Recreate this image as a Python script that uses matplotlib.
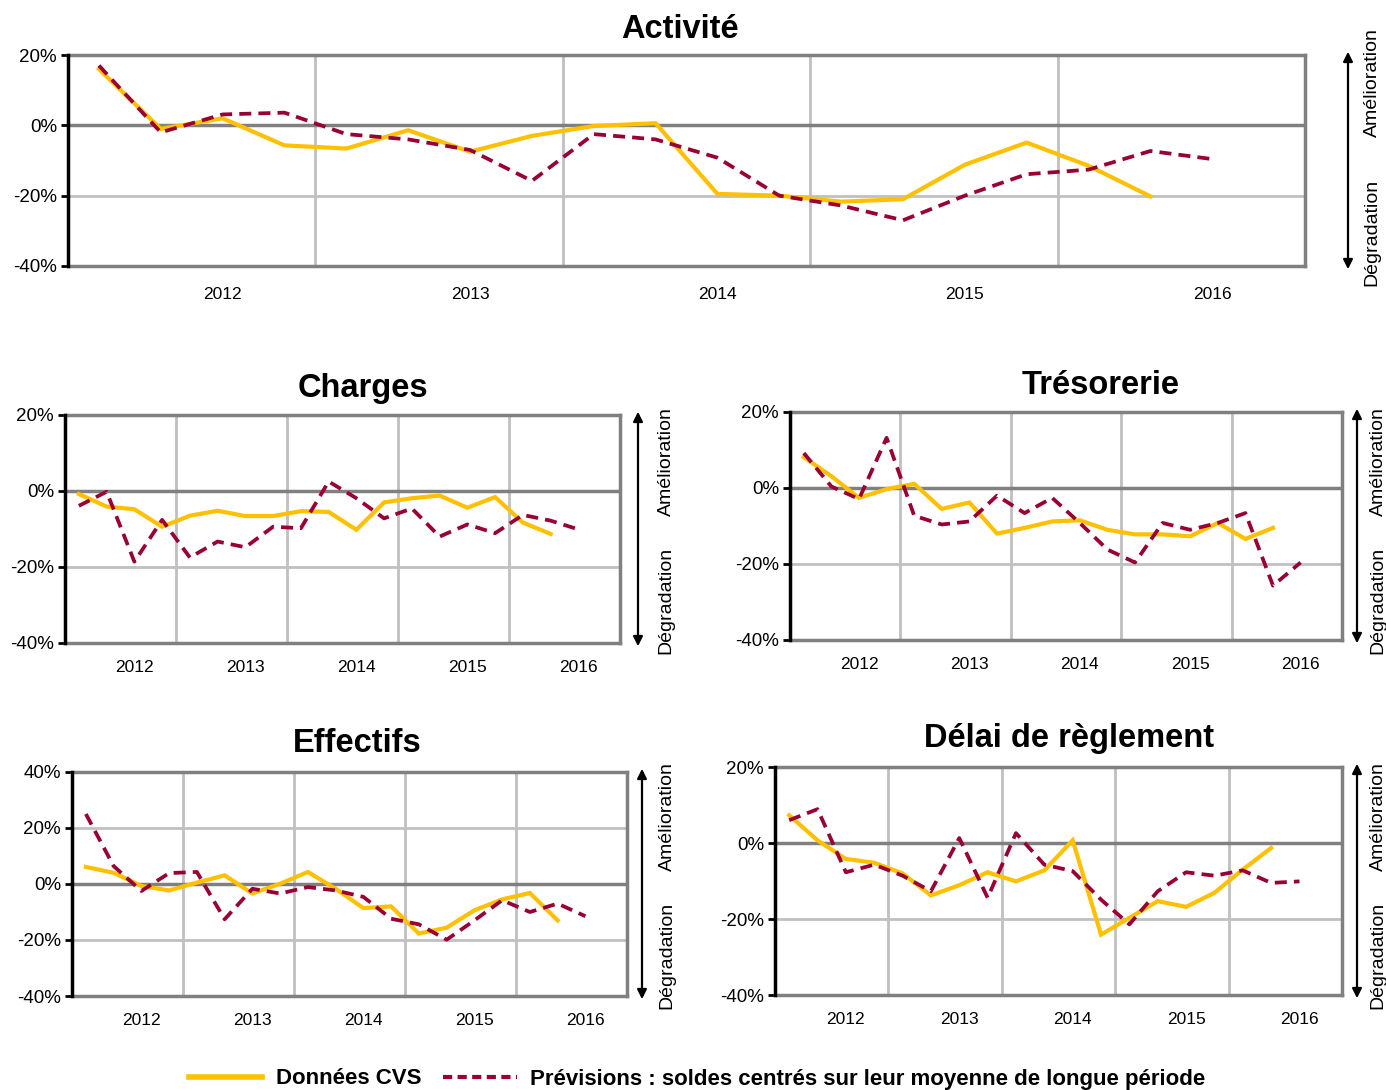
import matplotlib
matplotlib.use("Agg")
import matplotlib.pyplot as plt
import numpy as np
from matplotlib.lines import Line2D
from matplotlib.patches import FancyArrowPatch

W, H = 1386, 1090
YELLOW = "#FFC000"
MAROON = "#990033"
GRID = "#C0C0C0"
FRAME = "#808080"
NARROW = ["Liberation Sans Narrow", "Liberation Sans", "DejaVu Sans"]
REGULAR = ["Liberation Sans", "DejaVu Sans"]

# quarterly categories, 4 per year, labels on the 3rd one
years = ["2012", "2013", "2014", "2015", "2016"]
year_pos = [2, 6, 10, 14, 18]

activite_cvs = [16, -1, 2, -5.7, -6.6, -1.4, -7.5, -3, -0.2, 0.6,
                -19.5, -20, -21.7, -21, -11.2, -4.9, -11.5, -20.2]
activite_prev = [17, -2, 3.1, 3.6, -2.5, -4, -7, -15.8, -2.5, -4,
                 -9.2, -20, -22.8, -27, -20, -13.9, -12.6, -7.3, -9.6]

charges_cvs = [-0.8, -4.1, -4.8, -9.4, -6.5, -5.2, -6.6, -6.6, -5.3, -5.5,
               -10.2, -3, -1.9, -1.2, -4.4, -1.6, -8.3, -11.3]
charges_prev = [-3.9, -0.2, -18.6, -7.6, -17.5, -13.3, -14.8, -9.4, -9.8, 2.5,
                -1.9, -7.2, -4.6, -12, -8.8, -11.1, -6.3, -7.8, -10.1]

tresorerie_cvs = [8.1, 3.1, -2.6, -0.3, 1.1, -5.5, -3.8, -12, -10.5, -8.8,
                  -8.5, -11, -12.2, -12.2, -12.7, -9.2, -13.4, -10.5]
tresorerie_prev = [9.2, 0.4, -2.9, 13.2, -7.3, -9.6, -8.8, -2, -6.6, -2.6,
                   -9.2, -16.2, -19.6, -9.2, -11, -9.2, -6.6, -25.7, -19.6]

effectifs_cvs = [6.1, 4, -0.7, -2.3, 0.5, 3.1, -3.4, 0.1, 4.3, -1.7,
                 -8.6, -8, -17.7, -15.6, -9.4, -5.5, -3.2, -13]
effectifs_prev = [25, 6.4, -2.5, 3.9, 4.3, -12.6, -1.7, -3.4, -1.1, -2.3,
                  -4.6, -12.4, -14.4, -19.9, -13, -5.8, -10, -7, -11.5]

delai_cvs = [7.3, 0.7, -4.2, -5.2, -8, -13.8, -11.1, -7.7, -10.1, -7.2,
             0.7, -24.1, -19.7, -15.3, -16.8, -13.1, -7, -1.3]
delai_prev = [6, 8.9, -7.7, -5.7, -8.6, -12.7, 1.3, -14.4, 2.6, -5.7,
              -7.4, -14.9, -21.4, -12.7, -7.7, -8.6, -7.2, -10.5, -10.1]


def px_rect(l, t, r, b):
    return [l / W, 1 - b / H, (r - l) / W, (b - t) / H]


# title, data, ylim, axes box (px), title centre, arrow x, side text x,
# side text centres (y px), year label pad
panels = [
    ("Activité", activite_cvs, activite_prev, (-40, 20), (68, 55, 1305, 266),
     (680, 30), 1348, 1372, (83, 232), 15),
    ("Charges", charges_cvs, charges_prev, (-40, 20), (65, 415, 620, 643),
     (363, 388), 638, 666, (462, 600), 12),
    ("Trésorerie", tresorerie_cvs, tresorerie_prev, (-40, 20), (790, 412, 1342, 640),
     (1101, 386), 1357, 1378, (462, 600), 12),
    ("Effectifs", effectifs_cvs, effectifs_prev, (-40, 40), (72, 772, 627, 996),
     (357, 744), 642, 667, (817, 955), 12),
    ("Délai de règlement", delai_cvs, delai_prev, (-40, 20), (775, 767, 1342, 995),
     (1069, 739), 1357, 1378, (817, 955), 12),
]

fig = plt.figure(figsize=(W / 100, H / 100), dpi=100, facecolor="white")

for (title, cvs, prev, ylim, rect, title_xy, arrow_x, text_x,
     text_y, xpad) in panels:
    ax = fig.add_axes(px_rect(*rect))
    ax.set_xlim(-0.5, 19.5)
    ax.set_ylim(*ylim)

    yt = np.arange(ylim[0], ylim[1] + 1, 20)
    ax.set_yticks(yt)
    ax.set_yticklabels([f"{v}%" for v in yt], family=REGULAR, fontsize=13.5)
    ax.set_xticks(year_pos)
    ax.set_xticklabels(years, family=REGULAR, fontsize=12.5)
    ax.set_xticks([3.5, 7.5, 11.5, 15.5], minor=True)
    ax.tick_params(axis="x", which="both", length=0, pad=xpad)
    ax.tick_params(axis="y", length=5, width=2, color="black", pad=3)

    ax.grid(True, which="minor", axis="x", color=GRID, linewidth=2)
    for v in yt:
        if v != 0:
            ax.axhline(v, color=GRID, linewidth=2, zorder=0.5)
    ax.axhline(0, color=FRAME, linewidth=2.5, zorder=1)
    ax.set_axisbelow(True)

    for side in ("top", "right", "bottom"):
        ax.spines[side].set_color(FRAME)
        ax.spines[side].set_linewidth(2.5)
    ax.spines["left"].set_color("black")
    ax.spines["left"].set_linewidth(2.5)
    ax.spines["left"].set_zorder(5)

    ax.plot(np.arange(len(cvs)), cvs, color=YELLOW, linewidth=3, zorder=3,
            solid_joinstyle="miter")
    ax.plot(np.arange(len(prev)), prev, color=MAROON, linewidth=2.7,
            linestyle=(0, (3.2, 1.9)), zorder=4)

    fig.text(title_xy[0] / W, 1 - title_xy[1] / H, title, family=NARROW,
             fontsize=23.5, fontweight="bold", ha="center", va="center")

    top, bottom = rect[1], rect[3]
    fig.add_artist(FancyArrowPatch(
        (arrow_x / W, 1 - (bottom + 6) / H), (arrow_x / W, 1 - (top - 6) / H),
        transform=fig.transFigure, arrowstyle="<|-|>", mutation_scale=14,
        linewidth=1.6, color="black"))
    fig.text(text_x / W, 1 - text_y[0] / H, "Amélioration",
             family=REGULAR, fontsize=14, rotation=90, ha="center", va="center")
    fig.text(text_x / W, 1 - text_y[1] / H, "Dégradation",
             family=REGULAR, fontsize=14, rotation=90, ha="center", va="center")

handles = [
    Line2D([0], [0], color=YELLOW, linewidth=4),
    Line2D([0], [0], color=MAROON, linewidth=3, linestyle=(0, (2.2, 1.3))),
]
fig.legend(handles, ["Données CVS",
                     "Prévisions : soldes centrés sur leur moyenne de longue période"],
           loc="center", bbox_to_anchor=(697 / W, 1 - 1079 / H), ncol=2,
           frameon=False, handlelength=3.3, handletextpad=0.6, columnspacing=1.0,
           prop={"family": NARROW, "weight": "bold", "size": 16})

fig.savefig("out.png", dpi=100, facecolor="white")
